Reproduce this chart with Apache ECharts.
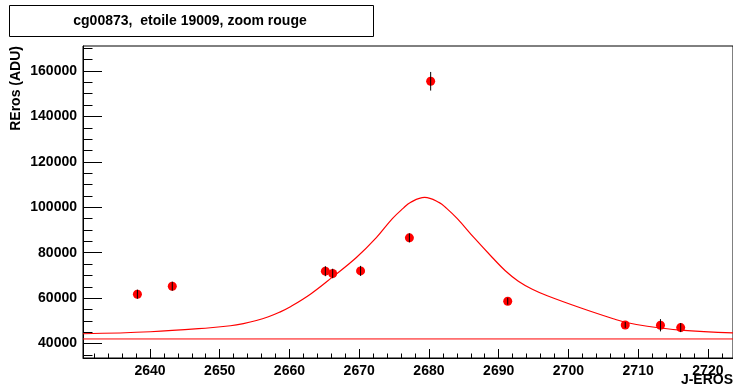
<!DOCTYPE html>
<html>
<head>
<meta charset="utf-8">
<script src="https://cdn.jsdelivr.net/npm/echarts@6/dist/echarts.min.js"></script>
<style>
html,body{margin:0;padding:0;background:#fff;}
#chart{width:733px;height:392px;}
</style>
</head>
<body>
<div id="chart"></div>
<script>
// ---- data ----
const obsX   = [2638.2, 2643.2, 2665.15, 2666.2, 2670.2, 2677.2, 2680.25, 2691.3, 2708.15, 2713.2, 2716.1];
const obsY   = [61730, 65250, 71870, 70850, 72000, 86540, 155470, 58640, 48200, 48070, 47050];
const obsErr = [2000, 2000, 2200, 2100, 2200, 2000, 4100, 1500, 1300, 2700, 2000];

const fitX = [2630.4, 2640.07, 2648.67, 2651.54, 2653.4, 2655.26, 2656.99, 2658.56, 2660.14, 2663.0, 2666.2, 2669.6, 2672.46, 2674.76, 2676.34, 2677.34, 2679.39, 2681.49, 2682.5, 2684.07, 2686.5, 2689.09, 2690.95, 2692.82, 2694.82, 2696.97, 2701.7, 2706.43, 2708.15, 2711.31, 2716.04, 2723.6];
const fitY = [44320, 45200, 46960, 47840, 48810, 50140, 51810, 53790, 56220, 61730, 69350, 77900, 86630, 95000, 99630, 102140, 104340, 102050, 99630, 95000, 86490, 77900, 72080, 67460, 63930, 61070, 55780, 50930, 49390, 47620, 45950, 44670];

const baseX = [2630.4, 2723.6];
const baseY = [42030, 42030];

const xTicks = [2640, 2650, 2660, 2670, 2680, 2690, 2700, 2710, 2720];
const xMinorTicks = [2632, 2634, 2636, 2638, 2642, 2644, 2646, 2648, 2652, 2654, 2656, 2658, 2662, 2664, 2666, 2668, 2672, 2674, 2676, 2678, 2682, 2684, 2686, 2688, 2692, 2694, 2696, 2698, 2702, 2704, 2706, 2708, 2712, 2714, 2716, 2718, 2722];
const yTicks = [40000, 60000, 80000, 100000, 120000, 140000, 160000];
const yMinorTicks = [35000, 45000, 50000, 55000, 65000, 70000, 75000, 85000, 90000, 95000, 105000, 110000, 115000, 125000, 130000, 135000, 145000, 150000, 155000, 165000, 170000];

const titleText = 'cg00873,  etoile 19009, zoom rouge';
const xTitle = 'J-EROS';
const yTitle = 'REros (ADU)';

const xMin = 2630.4, xMax = 2723.6, yMin = 33650, yMax = 171000;

// ---- chart ----
const FONT = '"Liberation Sans", Arial, Helvetica, sans-serif';
const chart = echarts.init(document.getElementById('chart'), null, {renderer: 'canvas'});

const zip = (a, b) => a.map((v, i) => [v, b[i]]);
const obsData = obsX.map((x, i) => [x, obsY[i], obsErr[i]]);

const labelStyle = {color: '#000', fontWeight: 'bold', fontSize: 14, fontFamily: FONT, formatter: v => String(v)};

const option = {
  animation: false,
  backgroundColor: '#fff',
  grid: {left: 83, top: 46, width: 650, height: 312, show: true, borderColor: '#000', borderWidth: 1, backgroundColor: 'transparent'},
  xAxis: [
    {
      type: 'value', min: xMin, max: xMax, position: 'bottom',
      axisLine: {show: true, lineStyle: {color: '#000', width: 1}},
      axisTick: {show: true, inside: true, length: 9, customValues: xTicks, lineStyle: {color: '#000'}},
      axisLabel: Object.assign({customValues: xTicks, margin: 6, showMinLabel: true, showMaxLabel: true}, labelStyle),
      splitLine: {show: false}
    },
    {
      type: 'value', min: xMin, max: xMax, position: 'bottom',
      axisLine: {show: false},
      axisTick: {show: true, inside: true, length: 4.5, customValues: xMinorTicks, lineStyle: {color: '#000'}},
      axisLabel: {show: false},
      splitLine: {show: false}
    }
  ],
  yAxis: [
    {
      type: 'value', min: yMin, max: yMax, position: 'left',
      axisLine: {show: true, lineStyle: {color: '#000', width: 1}},
      axisTick: {show: true, inside: true, length: 19, customValues: yTicks, lineStyle: {color: '#000'}},
      axisLabel: Object.assign({customValues: yTicks, margin: 6}, labelStyle),
      splitLine: {show: false}
    },
    {
      type: 'value', min: yMin, max: yMax, position: 'left',
      axisLine: {show: false},
      axisTick: {show: true, inside: true, length: 9.5, customValues: yMinorTicks, lineStyle: {color: '#000'}},
      axisLabel: {show: false},
      splitLine: {show: false}
    }
  ],
  series: [
    {
      type: 'line', data: zip(baseX, baseY), symbol: 'none',
      lineStyle: {color: '#ff0000', width: 1}, silent: true, z: 2
    },
    {
      type: 'line', data: zip(fitX, fitY), symbol: 'none', smooth: 0.4,
      lineStyle: {color: '#ff0000', width: 1.2}, silent: true, z: 3
    },
    {
      type: 'custom', data: obsData, z: 5,
      encode: {x: 0, y: 1},
      renderItem: function (params, api) {
        const x = api.value(0), y = api.value(1), e = api.value(2);
        const p1 = api.coord([x, y - e]);
        const p2 = api.coord([x, y + e]);
        return {
          type: 'line',
          shape: {x1: p1[0], y1: p1[1], x2: p2[0], y2: p2[1]},
          style: {stroke: '#000', lineWidth: 1}
        };
      }
    },
    {
      type: 'scatter', data: obsData.map(d => [d[0], d[1]]), symbol: 'circle', symbolSize: 9,
      itemStyle: {color: '#ff0000', opacity: 1}, z: 4
    }
  ],
  graphic: [
    {type: 'rect', left: 9, top: 5, shape: {width: 364, height: 31}, style: {fill: '#fff', stroke: '#000', lineWidth: 1}, z: 10},
    {type: 'text', x: 190, y: 21, style: {text: titleText, fill: '#000', font: 'bold 14px ' + FONT, textAlign: 'center', textVerticalAlign: 'middle'}, z: 11},
    {type: 'text', x: 733, y: 380, style: {text: xTitle, fill: '#000', font: 'bold 14px ' + FONT, textAlign: 'right', textVerticalAlign: 'middle'}, z: 11},
    {type: 'text', x: 16, y: 46, rotation: Math.PI / 2, style: {text: yTitle, fill: '#000', font: 'bold 14px ' + FONT, textAlign: 'right', textVerticalAlign: 'middle'}, z: 11}
  ]
};
chart.setOption(option);
</script>
</body>
</html>
